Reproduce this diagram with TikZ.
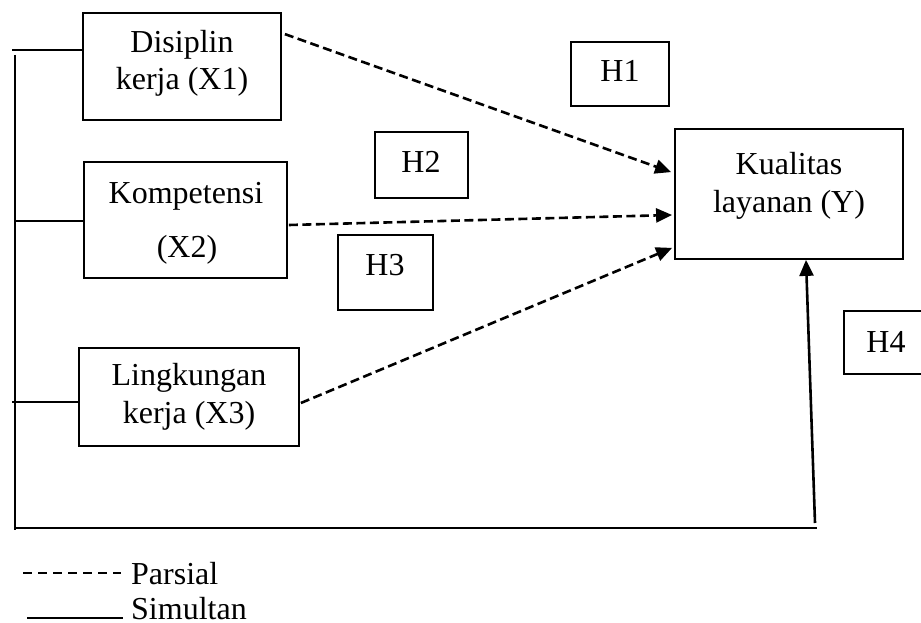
\documentclass[tikz,border=0pt]{standalone}
\usepackage{fontspec}
\setmainfont{Liberation Serif}
\usetikzlibrary{arrows.meta,calc}
\begin{document}
\begin{tikzpicture}[x=1pt,y=-1pt,
  box/.style={draw,line width=1.8pt,inner sep=0pt},
  txt/.style={anchor=base,inner sep=0pt,font=\fontsize{32}{38}\selectfont},
  thinline/.style={line width=1.3pt},
  parsial/.style={line width=2.6pt,dash pattern=on 9pt off 4.5pt,-{Triangle[length=16pt,width=14pt]}},
  simultan/.style={line width=2.6pt,-{Triangle[length=16pt,width=14pt]}}]
\clip (0,0) rectangle (921,623);
\fill[white] (0,0) rectangle (921,623);
% boxes
\node[box,minimum width=198pt,minimum height=107pt] (x1) at (182,66.5) {};
\node[box,minimum width=203pt,minimum height=116pt] (x2) at (185.5,220) {};
\node[box,minimum width=220pt,minimum height=98pt] (x3) at (189,397) {};
\node[box,minimum width=228pt,minimum height=130pt] (y) at (789,194) {};
\node[box,minimum width=98pt,minimum height=64pt] (h1) at (620,74) {};
\node[box,minimum width=93pt,minimum height=66pt] (h2) at (421.5,165) {};
\node[box,minimum width=95pt,minimum height=75pt] (h3) at (385.5,272.5) {};
\node[box,minimum width=100pt,minimum height=63pt] (h4) at (894,342.5) {};
% texts
\node[txt] (t1a) at (182,53) {Disiplin};
\node[txt] (t1b) at (182,90) {kerja (X1)};
\node[txt] (t2a) at (186,203) {Kompetensi};
\node[txt] (t2b) at (187,257) {(X2)};
\node[txt] (t3a) at (189,385) {Lingkungan};
\node[txt] (t3b) at (189,423) {kerja (X3)};
\node[txt] (tya) at (789,175) {Kualitas};
\node[txt] (tyb) at (789,212) {layanan (Y)};
\node[txt] (th1) at (620,82) {H1};
\node[txt] (th2) at (421,172) {H2};
\node[txt] (th3) at (385,275) {H3};
\node[txt] (th4) at (886,352) {H4};
% left frame
\coordinate (l1) at (12,50);
\coordinate (l2) at (15,221);
\coordinate (l3) at (12,402);
\coordinate (vtop) at (15,55);
\coordinate (vbot) at (15,530);
\coordinate (bl) at (15,528);
\coordinate (br) at (817,528);
\coordinate (as) at (815,523);
\draw[thinline] (l1) -- (l1 -| x1.west);
\draw[thinline] (l2) -- (l2 -| x2.west);
\draw[thinline] (l3) -- (l3 -| x3.west);
\draw[line width=1.5pt] (vtop) -- (vbot);
\draw[line width=1.5pt] (bl) -- (br);
% arrows
\draw[parsial] ([xshift=3pt,yshift=-22pt]x1.north east) -- ([xshift=-3pt,yshift=-44pt]y.north west);
\draw[parsial] ([xshift=1pt,yshift=-5pt]x2.east) -- ([xshift=-2pt,yshift=-21pt]y.west);
\draw[parsial] ([xshift=1pt,yshift=-6pt]x3.east) -- ([xshift=-2pt,yshift=12pt]y.south west);
\draw[simultan] (as) -- ([xshift=17pt]y.south);
% legend
\coordinate (d1) at (23,573);
\coordinate (d2) at (121,573);
\coordinate (s1) at (27,618);
\coordinate (s2) at (123,618);
\draw[line width=1.1pt,dash pattern=on 9pt off 6pt] (d1) -- (d2);
\draw[line width=1.1pt] (s1) -- (s2);
\node[txt,anchor=base west] (lp) at (131,584) {Parsial};
\node[txt,anchor=base west,text depth=0pt] (ls) at (131,619) {Simultan};
\end{tikzpicture}
\end{document}
